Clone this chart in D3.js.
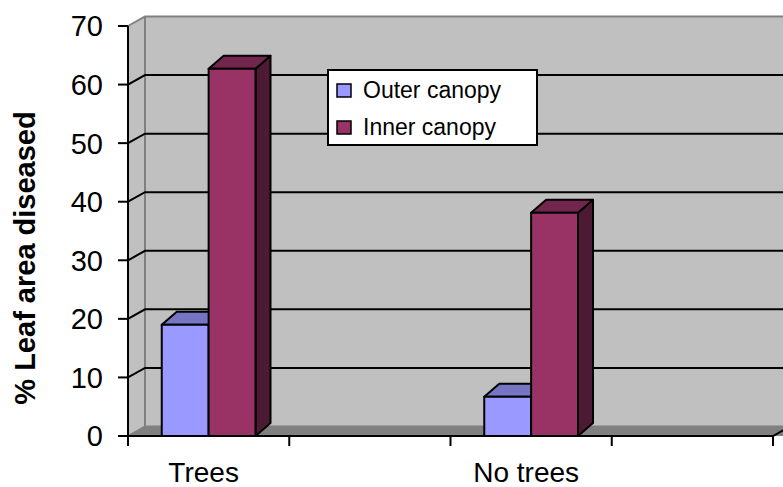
<!DOCTYPE html>
<meta charset="utf-8">
<script src="https://d3js.org/d3.v7.min.js"></script>
<style>
  body { margin: 0; background: #fff; }
  text { font-family: Arial, "Liberation Sans", sans-serif; }
</style>
<div id="chart"></div>
<script>

// data
var categories = ["Trees", "", "No trees", ""];
var series = ["Outer canopy", "Inner canopy"];
var outerValues = [19, null, 6.7, null];
var innerValues = [62.7, null, 38.1, null];
var yTicks = [0, 10, 20, 30, 40, 50, 60, 70];

var width = 783, height = 487;
var front = {left: 128, right: 773, top: 26, bottom: 436};
var wallDx = 17, wallDy = -9.5;   // depth of the back wall
var barDx = 15, barDy = -13;      // depth of each column

var faceColor = ["#9999ff", "#993366"];
var topColor  = ["#7575c4", "#73264d"];
var sideColor = ["#5c5c99", "#4d1a33"];

var svg = d3.select("#chart").append("svg")
  .attr("width", width)
  .attr("height", height);

var y = d3.scaleLinear().domain([0, 70]).range([front.bottom, front.top]);
var x0 = d3.scaleBand().domain(d3.range(categories.length)).range([front.left, front.right]);
var x1 = d3.scaleBand().domain(series).range([0, x0.bandwidth()]).paddingOuter(0.72);

var backLeft = front.left + wallDx, backRight = front.right + wallDx + 20;

// back wall
svg.append("rect")
  .attr("x", backLeft).attr("y", y(70) + wallDy)
  .attr("width", backRight - backLeft).attr("height", y(0) - y(70))
  .attr("fill", "#c0c0c0");

// side wall
svg.append("path")
  .attr("d", "M" + front.left + "," + y(0) + "L" + front.left + "," + y(70) +
    "L" + backLeft + "," + (y(70) + wallDy) + "L" + backLeft + "," + (y(0) + wallDy) + "Z")
  .attr("fill", "#c0c0c0");

// floor
svg.append("path")
  .attr("d", "M" + front.left + "," + y(0) + "L" + backLeft + "," + (y(0) + wallDy) +
    "L" + backRight + "," + (y(0) + wallDy) + "L" + (front.right + wallDx) + "," + (y(0) + wallDy) +
    "L" + front.right + "," + y(0) + "Z")
  .attr("fill", "#808080");
svg.append("rect")
  .attr("x", front.right).attr("y", y(0) + wallDy)
  .attr("width", 30).attr("height", -wallDy)
  .attr("fill", "#808080");

// wall edges
svg.append("path")
  .attr("d", "M" + front.left + "," + y(70) + "L" + backLeft + "," + (y(70) + wallDy) +
    "L" + backRight + "," + (y(70) + wallDy) +
    "M" + backLeft + "," + (y(70) + wallDy) + "L" + backLeft + "," + (y(0) + wallDy) +
    "M" + front.left + "," + y(0) + "L" + backLeft + "," + (y(0) + wallDy) +
    "L" + backRight + "," + (y(0) + wallDy))
  .attr("fill", "none")
  .attr("stroke", "#808080")
  .attr("stroke-width", 2);

// gridlines
var inner = yTicks.filter(function(d) { return d > 0 && d < 70; });
svg.selectAll(".grid")
  .data(inner)
  .enter()
  .append("path")
  .attr("d", function(d) {
    return "M" + front.left + "," + y(d) + "L" + backLeft + "," + (y(d) + wallDy) +
      "L" + backRight + "," + (y(d) + wallDy);
  })
  .attr("fill", "none")
  .attr("stroke", "black")
  .attr("stroke-width", 2);

// value axis
svg.append("line")
  .attr("x1", front.left).attr("x2", front.left)
  .attr("y1", y(70)).attr("y2", y(0) + 1)
  .attr("stroke", "black").attr("stroke-width", 2);

svg.selectAll(".ytick")
  .data(yTicks)
  .enter()
  .append("line")
  .attr("x1", front.left - 10).attr("x2", front.left)
  .attr("y1", function(d) { return y(d); })
  .attr("y2", function(d) { return y(d); })
  .attr("stroke", "black").attr("stroke-width", 2);

svg.selectAll(".ylabel")
  .data(yTicks)
  .enter()
  .append("text")
  .attr("x", 103)
  .attr("y", function(d) { return y(d); })
  .attr("dy", "0.36em")
  .attr("text-anchor", "end")
  .attr("font-size", 29)
  .text(function(d) { return d; });

// category axis
svg.append("path")
  .attr("d", "M" + front.left + "," + y(0) + "L" + front.right + "," + y(0) +
    "L" + (front.right + wallDx) + "," + (y(0) + wallDy))
  .attr("fill", "none")
  .attr("stroke", "black").attr("stroke-width", 2);

var bounds = d3.range(categories.length + 1).map(function(i) {
  return front.left + i * x0.step();
});
svg.selectAll(".xtick")
  .data(bounds)
  .enter()
  .append("line")
  .attr("x1", function(d) { return d; })
  .attr("x2", function(d) { return d; })
  .attr("y1", y(0)).attr("y2", y(0) + 10)
  .attr("stroke", "black").attr("stroke-width", 2);

svg.selectAll(".xlabel")
  .data(categories)
  .enter()
  .append("text")
  .attr("x", function(d, i) { return x0(i) + x0.bandwidth() / 2 - 5; })
  .attr("y", 482)
  .attr("text-anchor", "middle")
  .attr("font-size", 28)
  .text(function(d) { return d; });

// columns
var bars = [];
categories.forEach(function(c, i) {
  [outerValues[i], innerValues[i]].forEach(function(v, s) {
    if (v != null) bars.push({cat: i, s: s, value: v});
  });
});

var g = svg.selectAll(".bar")
  .data(bars)
  .enter()
  .append("g");

function pts(a) { return a.map(function(p) { return p.join(","); }).join(" "); }

g.append("polygon")
  .attr("points", function(d) {
    var xr = x0(d.cat) + x1(series[d.s]) + x1.bandwidth(), yt = y(d.value), yb = y(0);
    return pts([[xr, yb], [xr, yt], [xr + barDx, yt + barDy], [xr + barDx, yb + barDy]]);
  })
  .attr("fill", function(d) { return sideColor[d.s]; });

g.append("polygon")
  .attr("points", function(d) {
    var xl = x0(d.cat) + x1(series[d.s]), xr = xl + x1.bandwidth(), yt = y(d.value);
    return pts([[xl, yt], [xl + barDx, yt + barDy], [xr + barDx, yt + barDy], [xr, yt]]);
  })
  .attr("fill", function(d) { return topColor[d.s]; });

g.append("rect")
  .attr("x", function(d) { return x0(d.cat) + x1(series[d.s]); })
  .attr("y", function(d) { return y(d.value); })
  .attr("width", x1.bandwidth())
  .attr("height", function(d) { return y(0) - y(d.value); })
  .attr("fill", function(d) { return faceColor[d.s]; });

g.selectAll("polygon, rect")
  .attr("stroke", "black")
  .attr("stroke-width", 2)
  .attr("stroke-linejoin", "round");

// y axis title
svg.append("text")
  .attr("transform", "translate(35,258) rotate(-90)")
  .attr("text-anchor", "middle")
  .attr("font-size", 29)
  .attr("font-weight", "bold")
  .text("% Leaf area diseased");

// legend
var legend = svg.append("g");
legend.append("rect")
  .attr("x", 328).attr("y", 70)
  .attr("width", 209).attr("height", 75)
  .attr("fill", "white")
  .attr("stroke", "black").attr("stroke-width", 2);

var items = legend.selectAll(".item")
  .data(series)
  .enter()
  .append("g")
  .attr("transform", function(d, i) { return "translate(0," + (i * 37) + ")"; });

items.append("rect")
  .attr("x", 337).attr("y", 84)
  .attr("width", 14).attr("height", 13)
  .attr("fill", function(d, i) { return faceColor[i]; })
  .attr("stroke", "black").attr("stroke-width", 1.5);

items.append("text")
  .attr("x", 363).attr("y", 98)
  .attr("font-size", 23)
  .text(function(d) { return d; });

</script>
